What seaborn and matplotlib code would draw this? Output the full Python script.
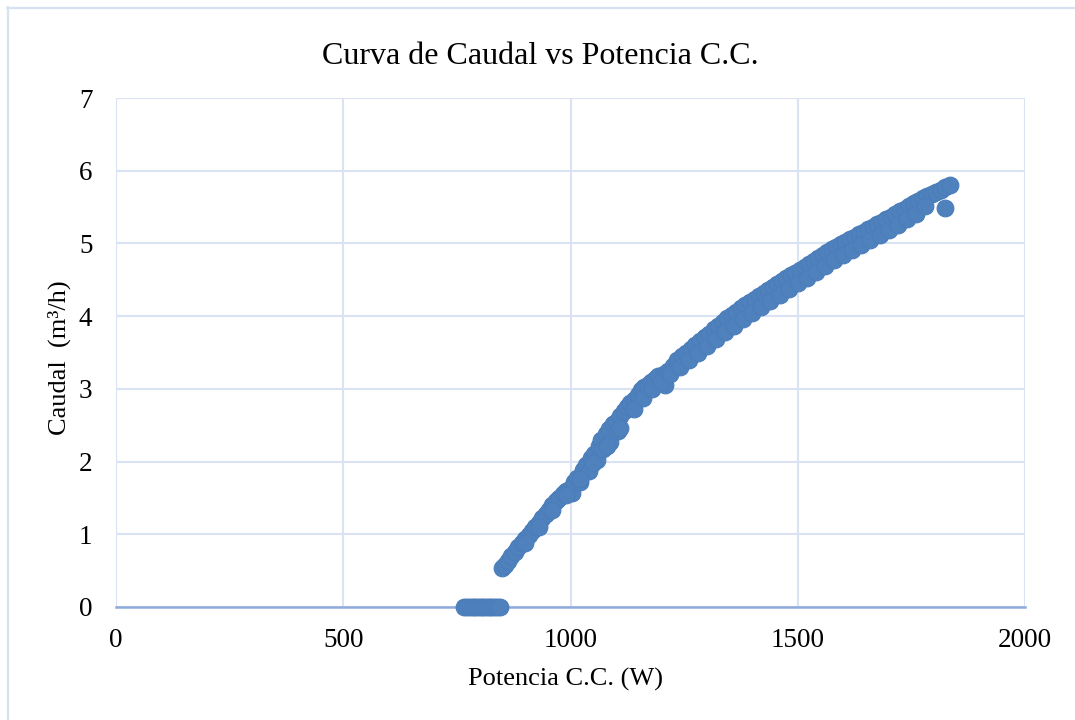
import matplotlib
matplotlib.use("Agg")
import matplotlib.pyplot as plt
from matplotlib.lines import Line2D
import seaborn as sns
import pandas as pd

# ---- data ----
potencia_cero = [766, 772, 778, 785, 790, 797, 803, 808, 815, 820, 826, 832, 838, 845]
caudal_cero = [0] * len(potencia_cero)

potencia = [849, 855, 862, 870, 878, 885, 893, 900, 908, 915, 922, 930, 938, 946, 953,
            960, 968, 975, 983, 990, 998, 1003, 1008, 1015, 1020, 1028, 1035, 1040,
            1045, 1052, 1058, 1062, 1068, 1072, 1078, 1084, 1088, 1094, 1100, 1105,
            1110, 1118, 1125, 1132, 1140, 1148, 1155, 1162, 1170, 1178, 1185, 1192,
            1208, 1205, 1215, 1225, 1235, 1245, 1255, 1265, 1275, 1285, 1295, 1305,
            1315, 1325, 1335, 1345, 1355, 1365, 1375, 1385, 1395, 1405, 1415, 1425,
            1435, 1445, 1455, 1465, 1475, 1485, 1495, 1505, 1515, 1525, 1535, 1545,
            1555, 1565, 1575, 1585, 1595, 1605, 1615, 1625, 1635, 1645, 1655, 1665,
            1675, 1685, 1695, 1705, 1715, 1725, 1735, 1745, 1755, 1765, 1775, 1785,
            1795, 1805, 1815, 1825, 1835, 1824]
caudal = [0.54, 0.58, 0.63, 0.70, 0.76, 0.82, 0.88, 0.93, 0.99, 1.05, 1.10, 1.15, 1.22,
          1.28, 1.33, 1.40, 1.46, 1.50, 1.56, 1.60, 1.62, 1.57, 1.72, 1.78, 1.72, 1.88,
          1.95, 1.87, 2.05, 2.10, 2.02, 2.22, 2.30, 2.17, 2.38, 2.45, 2.27, 2.52, 2.55,
          2.42, 2.62, 2.70, 2.75, 2.80, 2.85, 2.92, 2.98, 3.03, 3.05, 3.10, 3.13, 3.17,
          3.05, 3.20, 3.25, 3.32, 3.40, 3.45, 3.50, 3.55, 3.60, 3.66, 3.72, 3.76, 3.82,
          3.87, 3.92, 3.97, 4.02, 4.06, 4.11, 4.15, 4.20, 4.24, 4.28, 4.32, 4.36, 4.40,
          4.44, 4.48, 4.52, 4.56, 4.60, 4.64, 4.68, 4.72, 4.76, 4.80, 4.84, 4.88, 4.92,
          4.95, 4.99, 5.02, 5.06, 5.09, 5.13, 5.16, 5.20, 5.23, 5.27, 5.30, 5.34, 5.37,
          5.41, 5.44, 5.48, 5.51, 5.55, 5.58, 5.62, 5.65, 5.68, 5.71, 5.74, 5.77, 5.80,
          5.49]

# lower edge of the thick point band
potencia_bajo = [900, 930, 960, 990, 1020, 1050, 1080, 1110, 1140, 1160, 1180, 1200,
                 1220, 1240, 1260, 1280, 1300, 1320, 1340, 1360, 1380, 1400, 1420,
                 1440, 1460, 1480, 1500, 1520, 1540, 1560, 1580, 1600, 1620, 1640,
                 1660, 1680, 1700, 1720, 1740, 1760, 1780]
caudal_bajo = [0.88, 1.10, 1.34, 1.54, 1.76, 1.98, 2.22, 2.46, 2.72, 2.88, 3.00, 3.10,
               3.20, 3.30, 3.40, 3.50, 3.59, 3.68, 3.78, 3.87, 3.96, 4.05, 4.13,
               4.21, 4.29, 4.37, 4.45, 4.53, 4.61, 4.69, 4.77, 4.84, 4.91, 4.98,
               5.05, 5.12, 5.19, 5.26, 5.33, 5.41, 5.52]

x_ticks = [0, 500, 1000, 1500, 2000]
y_ticks = [0, 1, 2, 3, 4, 5, 6, 7]

title = "Curva de Caudal vs Potencia C.C."
xlabel = "Potencia C.C. (W)"
ylabel = "Caudal  (m³/h)"

df = pd.DataFrame({"Potencia": potencia_cero + potencia + potencia_bajo,
                   "Caudal": caudal_cero + caudal + caudal_bajo})

# ---- style ----
sns.set_theme(style="white")
plt.rcParams["font.family"] = ["Liberation Serif", "DejaVu Serif"]

W, H = 1075, 720
fig = plt.figure(figsize=(W / 100, H / 100), dpi=100)
fig.patch.set_facecolor("white")
ax = fig.add_axes([116 / W, 1 - 607 / H, (1025 - 116) / W, (607 - 98) / H])

grid_c = "#D9E3F3"
ax.set_xlim(0, 2000)
ax.set_ylim(0, 7)
ax.set_xticks(x_ticks)
ax.set_yticks(y_ticks)
ax.grid(True, color=grid_c, linewidth=1.5)
ax.set_axisbelow(True)
for s in ["top", "left", "right"]:
    ax.spines[s].set_visible(False)
ax.spines["bottom"].set_color("#8FAADC")
ax.spines["bottom"].set_linewidth(1.8)
ax.spines["bottom"].set_zorder(1)

sns.scatterplot(data=df, x="Potencia", y="Caudal", ax=ax, s=145,
                color="#4F81BD", edgecolor="#4A7DBA", linewidth=0.8,
                alpha=1.0, clip_on=False, zorder=5, legend=False)

ax.tick_params(axis="both", length=0, labelsize=19.5, colors="black")
ax.tick_params(axis="x", pad=15)
ax.tick_params(axis="y", pad=17)

ax.set_xlabel(xlabel, fontsize=19, color="black", va="center")
ax.xaxis.set_label_coords((566 - 116) / 909, (607 - 679) / 509)
ax.set_ylabel(ylabel, fontsize=19, color="black", va="center", ha="center")
ax.yaxis.set_label_coords((59 - 116) / 909, 0.49)

fig.text(540 / W, 1 - 57 / H, title, fontsize=23, ha="center", va="center",
         color="black")

# chart-area frame (light blue)
frame_c = "#D6E1F2"
fig.add_artist(Line2D([7.5 / W, 7.5 / W], [0, 1 - 7 / H], color=frame_c,
                      linewidth=1.6, transform=fig.transFigure))
fig.add_artist(Line2D([7 / W, 1], [1 - 7.5 / H, 1 - 7.5 / H], color=frame_c,
                      linewidth=1.6, transform=fig.transFigure))

fig.savefig("out.png", dpi=100, facecolor="white")
